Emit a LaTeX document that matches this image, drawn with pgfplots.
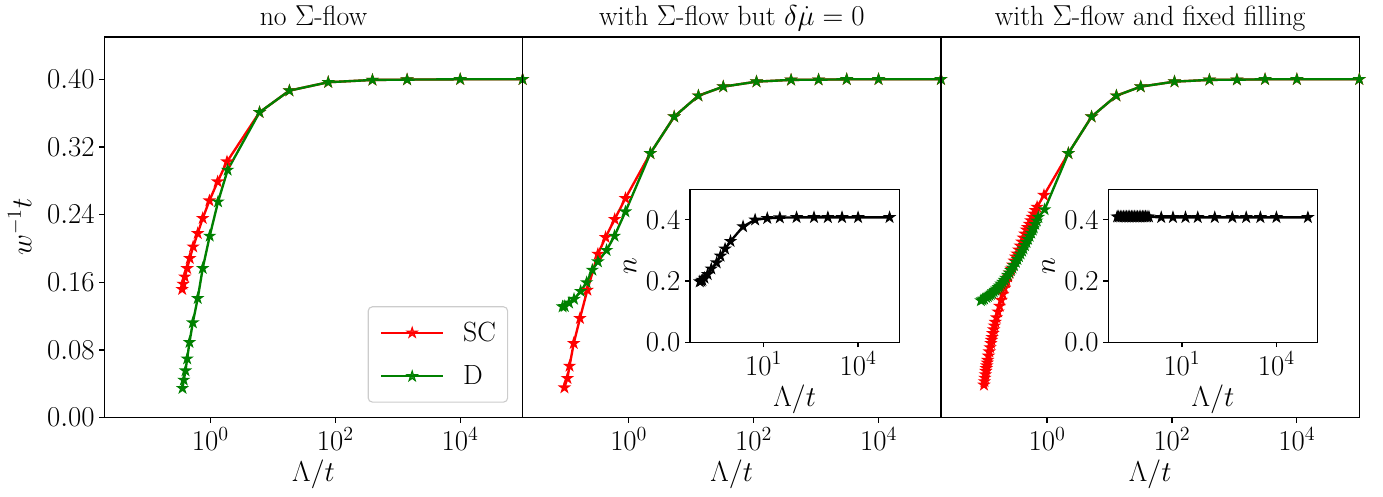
\documentclass[border=0pt]{standalone}
\usepackage{pgfplots}
\pgfplotsset{compat=1.18}
\usepackage{pgfplotstable}
\usetikzlibrary{plotmarks}
\newcommand{\fs}{\fontsize{20}{24}\selectfont}
\definecolor{mplgreen}{RGB}{0,128,0}

\pgfdeclareplotmark{fstar}{%
  \pgfpathmoveto{\pgfpointpolar{90}{\pgfplotmarksize}}%
  \pgfpathlineto{\pgfpointpolar{126}{0.382\pgfplotmarksize}}%
  \pgfpathlineto{\pgfpointpolar{162}{\pgfplotmarksize}}%
  \pgfpathlineto{\pgfpointpolar{198}{0.382\pgfplotmarksize}}%
  \pgfpathlineto{\pgfpointpolar{234}{\pgfplotmarksize}}%
  \pgfpathlineto{\pgfpointpolar{270}{0.382\pgfplotmarksize}}%
  \pgfpathlineto{\pgfpointpolar{306}{\pgfplotmarksize}}%
  \pgfpathlineto{\pgfpointpolar{342}{0.382\pgfplotmarksize}}%
  \pgfpathlineto{\pgfpointpolar{18}{\pgfplotmarksize}}%
  \pgfpathlineto{\pgfpointpolar{54}{0.382\pgfplotmarksize}}%
  \pgfpathclose
  \pgfusepathqfillstroke
}

% panel 1
\pgfplotstableread{
lx y
5.0 0.400
4.0 0.400
3.15 0.3996
2.595 0.3992
1.887 0.3965
1.265 0.3866
0.787 0.3610
0.266 0.3026
0.116 0.2790
-0.016 0.2565
-0.123 0.2357
-0.203 0.2179
-0.276 0.2021
-0.330 0.1884
-0.372 0.1765
-0.410 0.1666
-0.436 0.1580
-0.452 0.1518
}\pAr
\pgfplotstableread{
lx y
5.0 0.400
4.0 0.400
3.15 0.3996
2.595 0.3992
1.887 0.3965
1.265 0.3866
0.787 0.3610
0.276 0.2928
0.123 0.2553
-0.011 0.2148
-0.123 0.1766
-0.203 0.1411
-0.282 0.1123
-0.335 0.0891
-0.372 0.0697
-0.399 0.0556
-0.426 0.0446
-0.447 0.0348
}\pAg
% panel 2
\pgfplotstableread{
lx y
5.0 0.400
4.0 0.400
3.49 0.400
3.04 0.3995
2.60 0.3993
2.046 0.3972
1.514 0.3913
1.116 0.3806
0.728 0.3558
0.346 0.3125
-0.053 0.2593
-0.225 0.2345
-0.371 0.2132
-0.494 0.1935
-0.663 0.1509
-0.781 0.1175
-0.881 0.0879
-0.948 0.0611
-0.982 0.0466
-1.030 0.0355
}\pBr
\pgfplotstableread{
lx y
5.0 0.400
4.0 0.400
3.49 0.400
3.04 0.3995
2.60 0.3993
2.046 0.3972
1.514 0.3913
1.116 0.3806
0.728 0.3558
0.346 0.3125
-0.053 0.2435
-0.228 0.2148
-0.355 0.1979
-0.494 0.1844
-0.583 0.1746
-0.674 0.1598
-0.770 0.1495
-0.876 0.1401
-0.956 0.1357
-1.025 0.1316
-1.060 0.1312
}\pBg
\pgfplotstableread{
lx y
5.0 0.408
4.0 0.408
3.49 0.408
3.04 0.408
2.60 0.408
2.046 0.408
1.514 0.407
1.116 0.405
0.728 0.400
0.346 0.378
-0.053 0.330
-0.225 0.305
-0.371 0.282
-0.494 0.260
-0.663 0.240
-0.781 0.222
-0.881 0.210
-0.948 0.203
-0.982 0.200
-1.030 0.198
}\pBn
% panel 3
\pgfplotstableread{
lx y
5.0 0.400
4.0 0.400
3.49 0.400
3.04 0.3995
2.60 0.3993
2.04 0.3972
1.50 0.3913
1.11 0.3806
0.713 0.3558
0.341 0.3125
-0.050 0.2630
-0.160 0.2490
-0.185 0.2450
-0.210 0.2410
-0.235 0.2370
-0.260 0.2330
-0.285 0.2290
-0.310 0.2250
-0.330 0.2220
-0.355 0.2173
-0.380 0.2126
-0.405 0.2079
-0.430 0.2032
-0.455 0.1985
-0.480 0.1938
-0.500 0.1900
-0.525 0.1853
-0.550 0.1806
-0.575 0.1759
-0.600 0.1713
-0.625 0.1666
-0.650 0.1619
-0.660 0.1600
-0.685 0.1530
-0.710 0.1460
-0.735 0.1390
-0.760 0.1320
-0.785 0.1252
-0.810 0.1184
-0.830 0.1130
-0.8425 0.1086
-0.855 0.1041
-0.8675 0.0996
-0.880 0.0951
-0.890 0.0916
-0.900 0.0880
-0.9125 0.0830
-0.925 0.0780
-0.9375 0.0730
-0.950 0.0680
-0.9575 0.0648
-0.965 0.0615
-0.9725 0.0583
-0.980 0.0550
-0.9875 0.0510
-0.995 0.0469
-1.0025 0.0428
-1.010 0.0387
}\pCr
\pgfplotstableread{
lx y
5.0 0.400
4.0 0.400
3.49 0.400
3.04 0.3995
2.60 0.3993
2.04 0.3972
1.50 0.3913
1.11 0.3806
0.713 0.3558
0.341 0.3125
-0.040 0.2460
-0.140 0.2370
-0.165 0.2328
-0.190 0.2287
-0.215 0.2245
-0.230 0.2220
-0.255 0.2183
-0.280 0.2146
-0.305 0.2110
-0.330 0.2073
-0.355 0.2036
-0.380 0.1999
-0.400 0.1970
-0.425 0.1937
-0.450 0.1905
-0.475 0.1872
-0.500 0.1839
-0.530 0.1800
-0.555 0.1771
-0.580 0.1742
-0.605 0.1713
-0.630 0.1685
-0.660 0.1650
-0.685 0.1627
-0.710 0.1604
-0.735 0.1581
-0.760 0.1558
-0.780 0.1540
-0.805 0.1523
-0.830 0.1507
-0.855 0.1490
-0.880 0.1473
-0.900 0.1460
-0.925 0.1448
-0.950 0.1435
-0.975 0.1423
-1.010 0.1405
-1.035 0.1395
-1.060 0.1385
}\pCg
\pgfplotstableread{
lx y
5.0 0.408
4.0 0.408
3.49 0.408
3.04 0.408
2.60 0.408
2.04 0.408
1.50 0.408
1.11 0.408
0.713 0.408
0.341 0.408
-0.050 0.410
-0.110 0.410
-0.160 0.410
-0.210 0.410
-0.260 0.410
-0.310 0.410
-0.360 0.410
-0.410 0.410
-0.460 0.410
-0.510 0.410
-0.560 0.410
-0.610 0.410
-0.660 0.410
-0.710 0.410
-0.760 0.410
-0.810 0.410
-0.860 0.410
-0.910 0.410
-0.960 0.410
-1.010 0.410
-1.060 0.410
}\pCn

\pgfplotsset{
  myBase/.style={
    scale only axis,
    tick align=outside, tick pos=left,
    axis line style={line width=0.9pt},
    every tick/.style={black, line width=0.9pt},
    major tick length=3.5pt,
    xminorticks=false, yminorticks=false,
    tick label style={font=\fs},
    label style={font=\fs},
  },
  myMain/.style={
    myBase, width=301.2pt, height=274.1pt,
    xmin=0.02, xmax=1e5, ymin=0, ymax=0.45,
    xtick={1,100,10000},
    ytick={0,0.08,0.16,0.24,0.32,0.40},
    yticklabel style={/pgf/number format/fixed, /pgf/number format/fixed zerofill, /pgf/number format/precision=2},
    xlabel={$\Lambda/t$},
    title style={font=\fs, at={(0.5,1)}, anchor=base, yshift=2.2pt},
  },
  myInset/.style={
    myBase, width=150.7pt, height=110.2pt,
    xmin=0.0457, xmax=2.04e5, ymin=0, ymax=0.5,
    xtick={10,10000}, ytick={0,0.2,0.4},
    yticklabel style={/pgf/number format/fixed, /pgf/number format/fixed zerofill, /pgf/number format/precision=1},
    xlabel={$\Lambda/t$}, ylabel={$n$},
    axis background/.style={fill=white},
  },
  mySC/.style={red, line width=1.7pt, mark=fstar, mark size=3.8pt, mark options={fill=red, line width=0.8pt, solid}},
  myD/.style={mplgreen, line width=1.7pt, mark=fstar, mark size=3.8pt, mark options={fill=mplgreen, line width=0.8pt, solid}},
  myN/.style={black, line width=1.7pt, mark=fstar, mark size=3.8pt, mark options={fill=black, line width=0.8pt, solid}},
}

\begin{document}
\begin{tikzpicture}
% panel 1
\begin{semilogxaxis}[myMain, at={(75.1pt,56.4pt)}, anchor=south west,
  title={no $\Sigma$-flow}, ylabel={$w^{-1}t$}, ylabel shift=4.5pt,
  legend style={at={(1,0)}, anchor=south east, xshift=-10.4pt, yshift=10.8pt,
    draw=black!20, line width=0.8pt, rounded corners=3pt, fill=white, fill opacity=0.8, text opacity=1, draw opacity=1,
    font=\fs, inner xsep=8.5pt, inner ysep=11pt, row sep=16pt, column sep=13.5pt,
    nodes={inner sep=0pt}, cells={anchor=west}},
  legend image code/.code={\draw[mark repeat=2,mark phase=2] plot coordinates {(0pt,0pt) (22.3pt,0pt) (44.6pt,0pt)};},
]
\addplot[mySC] table[x expr={10^(\thisrow{lx})}, y=y] {\pAr};
\addlegendentry{SC}
\addplot[myD] table[x expr={10^(\thisrow{lx})}, y=y] {\pAg};
\addlegendentry{D}
\end{semilogxaxis}
% panel 2
\begin{semilogxaxis}[myMain, at={(376.3pt,56.4pt)}, anchor=south west,
  title={with $\Sigma$-flow but $\delta\dot{\mu}=0$}, ytick=\empty]
\addplot[mySC] table[x expr={10^(\thisrow{lx})}, y=y] {\pBr};
\addplot[myD] table[x expr={10^(\thisrow{lx})}, y=y] {\pBg};
\end{semilogxaxis}
% panel 3
\begin{semilogxaxis}[myMain, at={(677.5pt,56.4pt)}, anchor=south west,
  title={with $\Sigma$-flow and fixed filling}, ytick=\empty]
\addplot[mySC] table[x expr={10^(\thisrow{lx})}, y=y] {\pCr};
\addplot[myD] table[x expr={10^(\thisrow{lx})}, y=y] {\pCg};
\end{semilogxaxis}
% inset 2
\begin{semilogxaxis}[myInset, at={(496.8pt,110.7pt)}, anchor=south west]
\addplot[myN] table[x expr={10^(\thisrow{lx})}, y=y] {\pBn};
\end{semilogxaxis}
% inset 3
\begin{semilogxaxis}[myInset, at={(798.0pt,110.7pt)}, anchor=south west]
\addplot[myN] table[x expr={10^(\thisrow{lx})}, y=y] {\pCn};
\end{semilogxaxis}
\pgfresetboundingbox
\useasboundingbox (0,0) rectangle (995.76pt,357.12pt);
\end{tikzpicture}
\end{document}
